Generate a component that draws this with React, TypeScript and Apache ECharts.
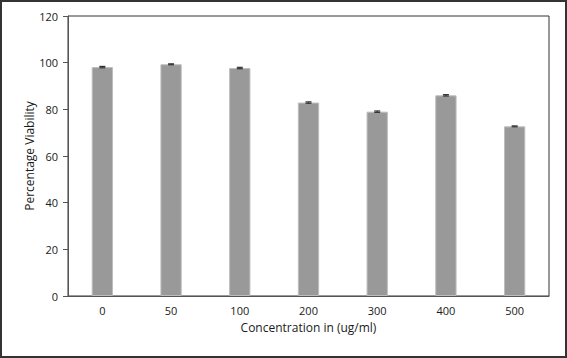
import React, { useEffect, useRef } from "react";
import * as echarts from "echarts";

const categories = ["0", "50", "100", "200", "300", "400", "500"];
const viability = [98.1, 99.3, 97.7, 82.9, 79.0, 86.0, 72.7];
const errors = [0.3, 0.2, 0.3, 0.3, 0.3, 0.3, 0.2];

export default function App() {
  const ref = useRef<HTMLDivElement>(null);
  useEffect(() => {
    const chart = echarts.init(ref.current!, null, { renderer: "svg" });
    const font = "'Open Sans', 'Liberation Sans', sans-serif";
    chart.setOption({
      animation: false,
      backgroundColor: "#fff",
      textStyle: { fontFamily: font },
      grid: { left: 68, right: 18, top: 16, bottom: 62, show: true, borderColor: "#333", borderWidth: 1 },
      graphic: [
        {
          type: "rect",
          shape: { x: 1, y: 1, width: 565, height: 356 },
          style: { fill: "none", stroke: "#333", lineWidth: 2 },
          silent: true,
        },
      ],
      xAxis: {
        type: "category",
        data: categories,
        name: "Concentration in (ug/ml)",
        nameLocation: "middle",
        nameGap: 25,
        nameTextStyle: { fontSize: 12, color: "#1a1a1a", fontFamily: font },
        axisLine: { lineStyle: { color: "#555", width: 1 } },
        axisTick: { show: false },
        axisLabel: { color: "#1a1a1a", fontSize: 11, margin: 9, fontFamily: font },
      },
      yAxis: {
        type: "value",
        min: 0,
        max: 120,
        interval: 20,
        name: "Percentage Viability",
        nameLocation: "middle",
        nameGap: 33,
        nameMoveOverlap: false,
        nameTextStyle: { fontSize: 12, color: "#1a1a1a", fontFamily: font },
        axisLine: { show: true, lineStyle: { color: "#555", width: 1 } },
        axisTick: { show: true, length: 5, lineStyle: { color: "#555" } },
        axisLabel: { color: "#1a1a1a", fontSize: 11, margin: 10, fontFamily: font },
        splitLine: { show: false },
      },
      series: [
        {
          type: "bar",
          data: viability,
          barWidth: "31%",
          itemStyle: { color: "#999999", borderColor: "#bdbdbd", borderWidth: 1 },
        },
        {
          type: "custom",
          data: viability.map((v, i) => [i, v, errors[i]]),
          renderItem: (params: any, api: any) => {
            const x = api.value(0);
            const v = api.value(1);
            const e = api.value(2);
            const top = api.coord([x, v + e]);
            const bot = api.coord([x, v - e]);
            const hw = 3;
            const st = { stroke: "#333", lineWidth: 1.2 };
            return {
              type: "group",
              children: [
                { type: "line", shape: { x1: top[0], y1: top[1], x2: bot[0], y2: bot[1] }, style: st },
                { type: "line", shape: { x1: top[0] - hw, y1: top[1], x2: top[0] + hw, y2: top[1] }, style: st },
                { type: "line", shape: { x1: bot[0] - hw, y1: bot[1], x2: bot[0] + hw, y2: bot[1] }, style: st },
              ],
            };
          },
          z: 5,
        },
      ],
    });
    return () => chart.dispose();
  }, []);
  return (
    <div
      ref={ref}
      style={{ position: "fixed", left: 0, top: 0, width: 567, height: 358 }}
    />
  );
}
